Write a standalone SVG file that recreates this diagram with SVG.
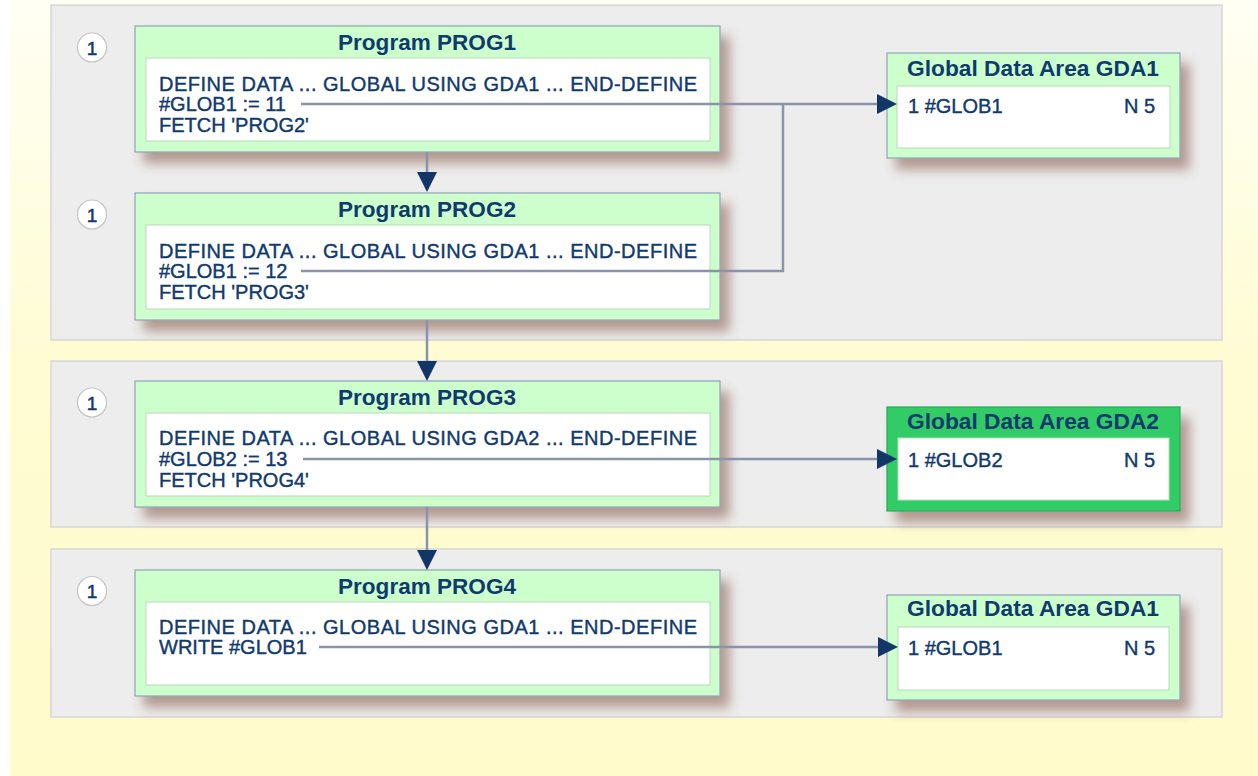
<svg xmlns="http://www.w3.org/2000/svg" width="1258" height="776" viewBox="0 0 1258 776">
<defs>
<linearGradient id="bg" x1="0" y1="0" x2="0" y2="1">
<stop offset="0" stop-color="#fffff4"/>
<stop offset="0.45" stop-color="#fffcd4"/>
<stop offset="1" stop-color="#fffbcb"/>
</linearGradient>
<filter id="shadow" x="-10%" y="-10%" width="130%" height="140%">
<feGaussianBlur in="SourceAlpha" stdDeviation="6"/>
<feOffset dx="9" dy="11" result="b"/>
<feFlood flood-color="#7a4636" flood-opacity="0.5"/>
<feComposite in2="b" operator="in"/>
<feMerge><feMergeNode/><feMergeNode in="SourceGraphic"/></feMerge>
</filter>
<marker id="arrow" markerUnits="userSpaceOnUse" markerWidth="20" markerHeight="20" refX="2" refY="10" orient="auto">
<path d="M0,0 L20,10 L0,20 z" fill="#123767"/>
</marker>
</defs>
<style>
.panel{fill:#ededed;stroke:#d6d6d6;stroke-width:1.5}
.prog{fill:#ccffcc;stroke:#8fa2b6;stroke-width:1.2}
.gda2{fill:#33cc66;stroke:#27a957;stroke-width:1.2}
.inner{fill:#ffffff;stroke:#b9d9b9;stroke-width:1}
.t{font-family:"Liberation Sans",Arial,sans-serif;font-size:20px;fill:#103a6e;stroke:#103a6e;stroke-width:0.4}
.title{font-family:"Liberation Sans",Arial,sans-serif;font-size:22px;font-weight:bold;fill:#103a6e;text-anchor:middle}
.num{font-family:"Liberation Sans",Arial,sans-serif;font-size:19px;fill:#103a6e;stroke:#103a6e;stroke-width:0.5;text-anchor:middle}
.circ{fill:#ffffff;stroke:#c4c4c4;stroke-width:1.2}
.conn{fill:none;stroke:#8a93aa;stroke-width:2.5}
</style>
<rect x="0" y="0" width="1258" height="776" fill="#ffffff"/>
<rect x="10" y="0" width="1248" height="776" fill="url(#bg)"/>
<g id="panels">
<rect class="panel" x="51" y="5" width="1171" height="335"/>
<rect class="panel" x="51" y="361" width="1171" height="166"/>
<rect class="panel" x="51" y="549" width="1171" height="168"/>
</g>
<g id="prog1">
<circle class="circ" cx="92" cy="47.5" r="14.5"/>
<text class="num" x="92" y="54.5">1</text>
<rect class="prog" x="135" y="26" width="585" height="126" filter="url(#shadow)"/>
<text class="title" x="427" y="49.5" textLength="178" lengthAdjust="spacingAndGlyphs">Program PROG1</text>
<rect class="inner" x="146" y="58" width="564" height="83"/>
<text class="t" x="159" y="90.5" textLength="538" lengthAdjust="spacing">DEFINE DATA ... GLOBAL USING GDA1 ... END-DEFINE</text>
<text class="t" x="159" y="111">#GLOB1 := 11</text>
<text class="t" x="159" y="131.5">FETCH 'PROG2'</text>
</g>
<g id="prog2">
<circle class="circ" cx="92" cy="214.5" r="14.5"/>
<text class="num" x="92" y="221.5">1</text>
<rect class="prog" x="135" y="193" width="585" height="127" filter="url(#shadow)"/>
<text class="title" x="427" y="217" textLength="178" lengthAdjust="spacingAndGlyphs">Program PROG2</text>
<rect class="inner" x="146" y="225" width="564" height="84"/>
<text class="t" x="159" y="257.5" textLength="538" lengthAdjust="spacing">DEFINE DATA ... GLOBAL USING GDA1 ... END-DEFINE</text>
<text class="t" x="159" y="278">#GLOB1 := 12</text>
<text class="t" x="159" y="298.5">FETCH 'PROG3'</text>
</g>
<g id="prog3">
<circle class="circ" cx="92" cy="402.5" r="14.5"/>
<text class="num" x="92" y="409.5">1</text>
<rect class="prog" x="135" y="381" width="585" height="126" filter="url(#shadow)"/>
<text class="title" x="427" y="405" textLength="178" lengthAdjust="spacingAndGlyphs">Program PROG3</text>
<rect class="inner" x="146" y="413" width="564" height="83"/>
<text class="t" x="159" y="445" textLength="538" lengthAdjust="spacing">DEFINE DATA ... GLOBAL USING GDA2 ... END-DEFINE</text>
<text class="t" x="159" y="466">#GLOB2 := 13</text>
<text class="t" x="159" y="486.5">FETCH 'PROG4'</text>
</g>
<g id="prog4">
<circle class="circ" cx="92" cy="591" r="14.5"/>
<text class="num" x="92" y="598">1</text>
<rect class="prog" x="135" y="570" width="585" height="126" filter="url(#shadow)"/>
<text class="title" x="427" y="594" textLength="178" lengthAdjust="spacingAndGlyphs">Program PROG4</text>
<rect class="inner" x="146" y="602" width="564" height="83"/>
<text class="t" x="159" y="633.5" textLength="538" lengthAdjust="spacing">DEFINE DATA ... GLOBAL USING GDA1 ... END-DEFINE</text>
<text class="t" x="159" y="654">WRITE #GLOB1</text>
</g>
<g id="gda1-top">
<rect class="prog" x="887" y="53" width="293" height="105" filter="url(#shadow)"/>
<text class="title" x="1033" y="75.5" textLength="252" lengthAdjust="spacingAndGlyphs">Global Data Area GDA1</text>
<rect class="inner" x="897" y="86" width="273" height="62"/>
<text class="t" x="908" y="113">1 #GLOB1</text>
<text class="t" x="1155" y="113" text-anchor="end">N 5</text>
</g>
<g id="gda2">
<rect class="gda2" x="887" y="407" width="293" height="104" filter="url(#shadow)"/>
<text class="title" x="1033" y="428.5" textLength="252" lengthAdjust="spacingAndGlyphs">Global Data Area GDA2</text>
<rect class="inner" x="898" y="438" width="271" height="62"/>
<text class="t" x="908" y="467">1 #GLOB2</text>
<text class="t" x="1155" y="467" text-anchor="end">N 5</text>
</g>
<g id="gda1-bottom">
<rect class="prog" x="887" y="595" width="293" height="105" filter="url(#shadow)"/>
<text class="title" x="1033" y="616" textLength="252" lengthAdjust="spacingAndGlyphs">Global Data Area GDA1</text>
<rect class="inner" x="898" y="627" width="271" height="63"/>
<text class="t" x="908" y="655">1 #GLOB1</text>
<text class="t" x="1155" y="655" text-anchor="end">N 5</text>
</g>
<g id="connectors">
<path class="conn" d="M301,104 H879" marker-end="url(#arrow)"/>
<path class="conn" d="M301,271 H783 V104"/>
<path class="conn" d="M303,459 H879" marker-end="url(#arrow)"/>
<path class="conn" d="M319,647 H880" marker-end="url(#arrow)"/>
<path class="conn" d="M427,152 V174" marker-end="url(#arrow)"/>
<path class="conn" d="M427,320 V363" marker-end="url(#arrow)"/>
<path class="conn" d="M427,507 V552" marker-end="url(#arrow)"/>
</g>
</svg>
